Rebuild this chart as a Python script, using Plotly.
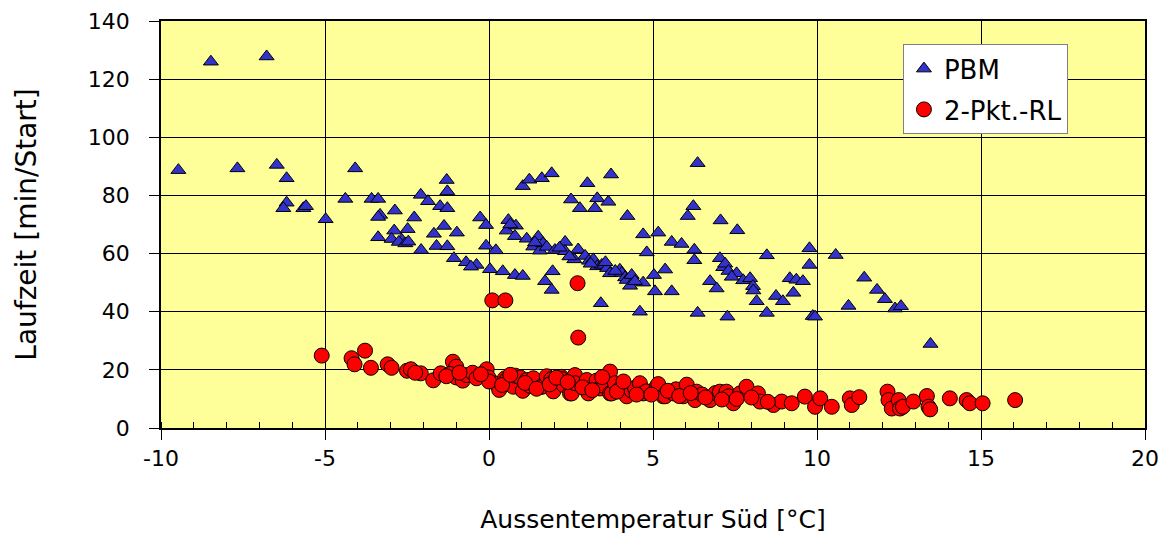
import plotly.graph_objects as go

# PBM series (triangles)
pbm_x = [-9.47, -8.48, -7.67, -6.78, -6.47, -6.17, -6.17, -6.27, -5.66, -5.58,
         -4.98, -4.38, -4.08, -3.58, -3.38, -3.32, -3.38, -3.38, -2.87, -2.89,
         -2.97, -2.66, -2.75, -2.55, -2.48, -2.46, -2.28, -2.08, -2.07, -1.86,
         -1.68, -1.60, -1.49, -1.37, -1.29, -1.27, -1.27, -1.27, -0.98, -1.07,
         -0.70, -0.38, -0.27, -0.09, -0.09, 0.03, 0.21, 0.42, 0.54, 0.59,
         0.79, 0.82, 0.79, 1.03, 1.03, 1.15, 1.23, 1.35, 1.50, 1.55,
         1.61, 1.65, 1.76, 1.91, 2.01, 1.94, 1.71, 1.91, 2.32, 2.32,
         2.50, 2.60, 2.72, 2.77, 2.93, 3.00, 3.05, 3.18, 3.23, 3.30,
         3.30, 3.41, 3.44, 3.60, 3.64, 3.69, 3.72, 3.99, 4.05, 4.15,
         4.20, 4.22, 4.30, 4.35, 4.60, 4.70, 4.70, 4.81, 5.03, 5.06,
         5.16, 5.37, 5.57, 5.57, 5.87, 6.06, 6.23, 6.26, 6.26, 6.36,
         6.36, 6.74, 6.94, 7.04, 7.06, 7.14, 7.20, 7.27, 7.30, 7.55,
         7.57, 7.75, 7.96, 8.05, 8.06, 8.16, 8.47, 8.47, 8.75, 8.96,
         9.17, 9.28, 9.37, 9.57, 9.77, 9.77, 9.87, 9.94, 10.57, 10.96,
         11.44, 11.83, 12.07, 12.38, 12.56, 13.46,
         -0.55, 0.65, 1.40, 2.15, 2.45, 3.10, 3.55, 3.85, 4.45, 7.40]
pbm_y = [88.7, 126.0, 89.3, 127.8, 90.5, 85.9, 77.5, 75.6, 75.6, 76.3,
         71.8, 78.8, 89.3, 78.8, 78.8, 73.3, 72.6, 65.6, 74.8, 67.9,
         65.0, 64.7, 64.0, 63.5, 68.4, 64.1, 72.4, 80.2, 61.2, 78.0,
         66.8, 62.6, 76.3, 69.5, 85.3, 81.4, 75.6, 62.5, 67.2, 58.4,
         57.0, 56.1, 72.4, 69.8, 62.7, 54.6, 61.1, 53.9, 67.9, 71.5,
         66.0, 69.6, 52.6, 52.3, 83.2, 65.1, 85.4, 62.4, 65.8, 61.0,
         85.9, 63.5, 62.3, 87.6, 61.2, 53.9, 50.5, 47.5, 64.0, 60.8,
         78.6, 58.0, 61.4, 75.6, 59.2, 84.2, 57.5, 58.0, 75.6, 79.0,
         55.6, 42.9, 56.1, 55.0, 77.8, 53.2, 87.2, 54.4, 53.3, 51.8,
         50.9, 72.9, 48.9, 52.6, 40.0, 66.6, 50.0, 60.4, 52.6, 47.0,
         67.2, 54.5, 47.0, 64.0, 63.3, 72.9, 76.3, 61.3, 57.7, 91.1,
         39.6, 50.5, 48.0, 58.4, 71.4, 55.3, 56.5, 38.3, 54.0, 53.2,
         68.0, 50.8, 51.5, 48.8, 47.3, 43.6, 59.4, 39.6, 45.4, 43.6,
         51.5, 46.5, 51.0, 50.5, 61.8, 56.1, 38.5, 38.3, 59.5, 42.0,
         51.7, 47.5, 44.3, 41.1, 41.9, 28.9,
         55.5, 70.0, 63.8, 62.0, 59.0, 56.5, 57.0, 54.0, 50.5, 52.0]

# 2-Pkt.-RL series (circles)
rl_x = [-5.10, -4.19, -4.10, -3.78, -3.60, -3.09, -2.97, -2.50, -2.38, -2.08,
        -1.70, -1.47, -1.10, -1.00, -1.19, -1.00, -0.80, -0.68, -0.50, -0.38,
        -0.07, -0.02, 0.10, 0.50, 0.21, 0.31, 0.49, 0.54, 0.74, 0.80,
        0.95, 1.03, 1.15, 1.25, 1.35, 1.60, 1.61, 1.76, 1.90, 1.96,
        2.20, 2.22, 2.27, 2.47, 2.52, 2.62, 2.62, 2.70, 2.72, 2.98,
        3.03, 3.28, 3.38, 3.50, 3.69, 3.69, 3.74, 3.84, 4.00, 4.20,
        4.35, 4.45, 4.60, 4.70, 4.80, 5.11, 5.16, 5.31, 5.37, 5.62,
        5.70, 5.92, 6.03, 6.28, 6.33, 6.50, 6.74, 6.90, 7.04, 7.24,
        7.30, 7.45, 7.65, 7.85, 8.20, 8.26, 8.67, 8.92, 9.23, 9.63,
        9.94, 10.10, 10.45, 11.00, 11.06, 11.29, 12.15, 12.18, 12.28, 12.49,
        12.53, 12.62, 12.94, 13.35, 13.40, 13.45, 14.05, 14.56, 14.66, 15.05,
        16.04,
        0.00, 0.40, 0.65, 1.10, 1.45, 1.85, 2.05, 2.40, 2.85, 3.15,
        3.45, 3.90, 4.10, 4.50, 4.95, 5.45, 5.80, 6.15, 6.60, 7.10,
        7.55, 8.00, 8.50, -0.25, -1.30, -2.25, -0.90]
rl_y = [24.9, 24.0, 21.9, 26.6, 20.7, 21.9, 20.7, 19.7, 20.2, 18.8,
        16.4, 18.8, 22.8, 21.1, 18.6, 17.4, 16.3, 18.2, 19.0, 17.1,
        20.2, 17.4, 43.9, 43.9, 15.3, 13.1, 17.1, 16.5, 14.2, 18.0,
        17.4, 12.8, 16.5, 14.5, 17.1, 14.2, 14.2, 17.8, 16.8, 12.6,
        17.6, 16.8, 14.8, 11.9, 11.9, 18.2, 15.4, 49.8, 31.1, 16.5,
        11.9, 16.3, 13.6, 14.5, 19.4, 11.9, 11.9, 15.4, 13.5, 10.9,
        12.8, 13.8, 15.4, 11.9, 12.6, 14.2, 15.1, 10.9, 10.9, 11.9,
        13.3, 10.9, 14.9, 9.6, 12.5, 11.5, 9.6, 12.0, 12.5, 12.5,
        10.9, 8.5, 11.9, 14.2, 11.9, 9.1, 7.9, 9.1, 8.5, 10.8,
        7.3, 10.2, 7.3, 10.2, 7.9, 10.6, 12.5, 9.6, 6.7, 9.6,
        6.7, 7.3, 9.1, 11.0, 7.3, 6.4, 10.2, 9.6, 8.5, 8.5,
        9.6,
        16.0, 14.8, 18.3, 15.5, 13.5, 15.0, 17.3, 15.8, 14.0, 13.0,
        17.5, 12.5, 16.0, 11.5, 11.5, 12.8, 11.0, 12.0, 10.5, 9.8,
        10.0, 10.5, 9.0, 18.5, 17.8, 19.0, 19.0]

x_ticks = [-10, -5, 0, 5, 10, 15, 20]
y_ticks = [0, 20, 40, 60, 80, 100, 120, 140]

FONT = "DejaVu Sans, Verdana, sans-serif"

fig = go.Figure()
fig.add_trace(go.Scatter(
    x=pbm_x, y=pbm_y, mode="markers", name="PBM", legendgroup="a",
    marker=dict(symbol="triangle-up", size=13, color="#3333CC",
                line=dict(color="black", width=1))))
fig.add_trace(go.Scatter(
    x=rl_x, y=rl_y, mode="markers", name="2-Pkt.-RL", legendgroup="b",
    marker=dict(symbol="circle", size=15, color="#FF0000",
                line=dict(color="black", width=1))))

# page body has an 8px margin: figure is sized/margined so the plot area
# lands at x 161..1145, y 21..428 in the 1170x536 window
fig.update_layout(
    width=1162, height=528,
    margin=dict(l=153, r=25, t=13, b=108),
    paper_bgcolor="white",
    plot_bgcolor="#FFFF99",
    font=dict(family=FONT, size=22, color="black"),
    showlegend=True,
    legend=dict(x=0.754, y=0.943, xanchor="left", yanchor="top",
                bgcolor="white", bordercolor="#808080", borderwidth=1,
                font=dict(family=FONT, size=26, color="black"),
                traceorder="grouped", tracegroupgap=4),
)
fig.update_xaxes(
    range=[-10, 20], tickvals=x_ticks, ticktext=[str(v) for v in x_ticks],
    showgrid=True, gridcolor="black", gridwidth=1, zeroline=False,
    ticks="outside", ticklen=10, tickcolor="black", tickwidth=1,
    showline=True, linecolor="black", linewidth=1.5, mirror=True,
    ticklabelstandoff=0,
    minor=dict(dtick=1, tick0=0, ticks="inside", ticklen=6, tickcolor="black", showgrid=False),
    tickfont=dict(family=FONT, size=22),
    title=dict(text="Aussentemperatur Süd [°C]", font=dict(family=FONT, size=25), standoff=40),
    automargin=False,
)
fig.update_yaxes(
    range=[0, 140], tickvals=y_ticks, ticktext=[str(v) for v in y_ticks],
    showgrid=True, gridcolor="black", gridwidth=1, zeroline=False,
    ticks="outside", ticklen=10, tickcolor="black", tickwidth=1,
    showline=True, linecolor="black", linewidth=1.5, mirror=True,
    ticklabelstandoff=15,
    tickfont=dict(family=FONT, size=22),
    title=dict(text="Laufzeit [min/Start]", font=dict(family=FONT, size=28), standoff=43),
    automargin=False,
)

fig.write_html("out.html")
